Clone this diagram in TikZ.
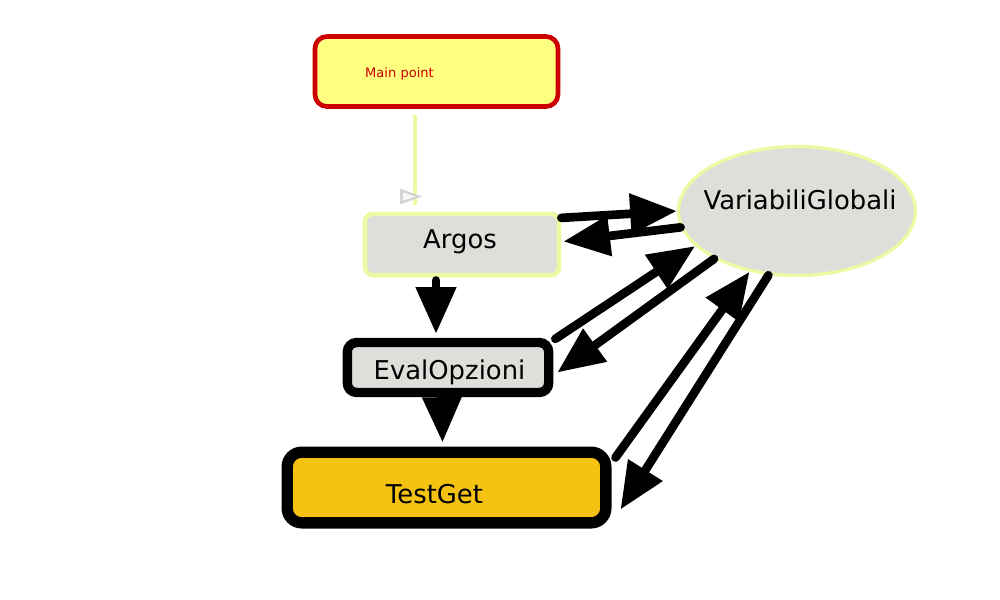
\documentclass[tikz,border=0pt]{standalone}
\usepackage{fontspec}
\setmainfont{DejaVu Sans}
\usetikzlibrary{arrows.meta,shapes.geometric,calc}
\definecolor{mainfill}{HTML}{FFFF80}
\definecolor{mainred}{HTML}{CC0000}
\definecolor{boxgrey}{HTML}{DFDEDA}
\definecolor{lightgreen}{HTML}{EAFBA6}
\definecolor{tgyellow}{HTML}{F5C211}
\definecolor{tipgrey}{HTML}{D4D4D4}
\tikzset{
  bigtxt/.style={font=\fontsize{19.4}{23}\selectfont, text=black, inner sep=0pt},
  mainbox/.style={draw=mainred, fill=mainfill, line width=3.5pt, rounded corners=9pt,
     minimum width=182.25pt, minimum height=52.5pt, inner sep=0pt},
  argosbox/.style={draw=lightgreen, fill=boxgrey, line width=3.5pt, rounded corners=6pt,
     minimum width=145.5pt, minimum height=46pt, inner sep=0pt},
  evalbox/.style={draw=black, fill=boxgrey, line width=7pt, rounded corners=7pt,
     minimum width=151pt, minimum height=37.5pt, inner sep=0pt},
  tgbox/.style={draw=black, fill=tgyellow, line width=8.5pt, rounded corners=11pt,
     minimum width=239pt, minimum height=53pt, inner sep=0pt},
  vgell/.style={ellipse, draw=lightgreen, fill=boxgrey, line width=2.5pt,
     minimum width=177.75pt, minimum height=96.75pt, inner sep=0pt},
  link/.style={draw=black, line width=6.5pt, line cap=round, -{Triangle[length=35pt,width=29pt]}},
}
\begin{document}
\begin{tikzpicture}[x=0.75pt,y=-0.75pt]
\useasboundingbox (0,0) rectangle (1000,600);
% nodes
\node[mainbox] (main) at (436.5,71.5) {};
\node[font=\fontsize{9.8}{12}\selectfont, text=mainred, inner sep=0pt] (maintxt) at (399.5,74) {Main point};
\node[argosbox] (argos) at (462,244.5) {};
\node[bigtxt] (argostxt) at (460,242) {Argos};
\node[vgell] (vg) at (797,211) {};
\node[bigtxt] (vgtxt) at (800,200) {VariabiliGlobali};
\node[evalbox] (eval) at (448,367.5) {};
\node[bigtxt] (evaltxt) at (449.5,372) {EvalOpzioni};
\node[tgbox] (tg) at (446.5,487.5) {};
\node[bigtxt] (tgtxt) at (434.5,494) {TestGet};
% main -> argos
\coordinate (mtip) at ($(argos.north)+(-47,-7)$);
\draw[lightgreen, line width=3.5pt] ($(main.south)+(-21.5,6)$) -- (mtip);
\fill[tipgrey] ($(mtip)+(-15,-16)$) -- ($(mtip)+(7,-8)$) -- ($(mtip)+(-15,0)$) -- cycle;
\fill[white!85!tipgrey] ($(mtip)+(-12,-12)$) -- ($(mtip)+(0,-8)$) -- ($(mtip)+(-12,-4)$) -- cycle;
% edges
\draw[link] (argos.15) -- (vg.180);
\draw[link] (vg.188) -- ($(argos.east)+(2,-3)$);
\draw[link] ($(argos.south)+(-26,3)$) -- ($(eval.north)+(-12,-4)$);
\draw[link, line cap=butt, -{Triangle[length=34pt,width=28pt]}] ($(eval.south)+(-6,11)$) -- ($(tg.north)+(-4,-4)$);
\draw[link] ($(eval.north east)+(2,1)$) -- (vg.199);
\draw[link] (vg.210) -- ($(eval.east)+(4,5)$);
\draw[link] ($(tg.north east)+(4,11)$) -- (vg.232);
\draw[link] (vg.246) -- ($(tg.east)+(9,22)$);
\end{tikzpicture}
\end{document}
